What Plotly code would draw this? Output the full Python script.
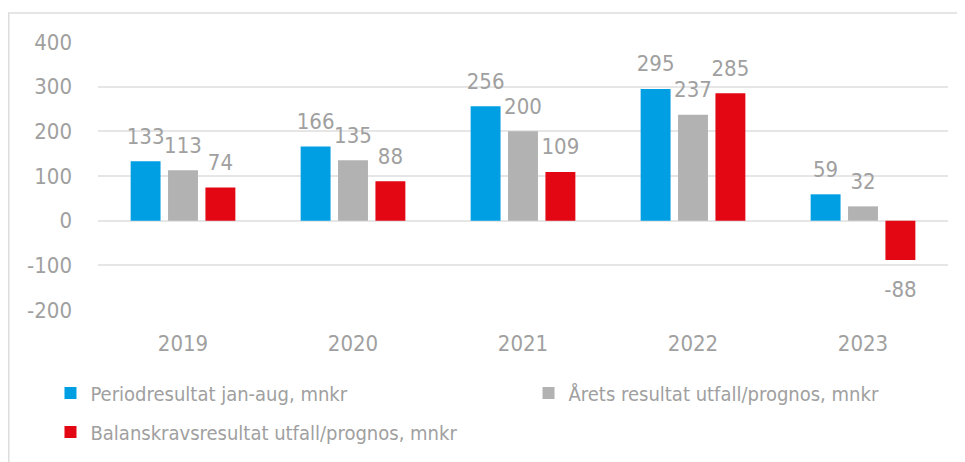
import plotly.graph_objects as go

years = ["2019", "2020", "2021", "2022", "2023"]
periodresultat = [133, 166, 256, 295, 59]
arets_resultat = [113, 135, 200, 237, 32]
balanskrav = [74, 88, 109, 285, -88]
names = ["Periodresultat jan-aug, mnkr", "Årets resultat utfall/prognos, mnkr",
         "Balanskravsresultat utfall/prognos, mnkr"]
colors = ["#009FE3", "#B2B2B2", "#E30613"]
legend_ids = ["legend", "legend2", "legend"]
y_ticks = [400, 300, 200, 100, 0, -100, -200]
y_ticktext = ["400", "300", "200", "100", "0", "-100", "-200"]

FONT = "DejaVu Sans Condensed, DejaVu Sans, sans-serif"
GREY = "#A0A0A0"

# invisible padding spans give the value labels extra distance from the bars
PAD = "<sub><span style='font-size:42px'> </span></sub>"

fig = go.Figure()
for i, (name, vals, col, lg) in enumerate(zip(names, [periodresultat, arets_resultat, balanskrav], colors, legend_ids)):
    fig.add_trace(go.Bar(
        x=years, y=vals, name=name, marker_color=col,
        marker_line_width=0, legend=lg, legendgroup=f"g{i}",
        text=[str(v) for v in vals],
        texttemplate=PAD + "%{text}" + PAD, textposition="outside",
        constraintext="none",
        textfont=dict(size=22, color=GREY, family=FONT),
        cliponaxis=False, hoverinfo="x+y+name",
    ))

legend_common = dict(
    orientation="v", xanchor="left", yanchor="top", y=-0.237,
    font=dict(size=20, color=GREY, family=FONT),
    itemwidth=30, traceorder="grouped", tracegroupgap=10,
    bgcolor="rgba(0,0,0,0)",
)

# page body has an 8px default margin, so the figure is sized to fit the window
fig.update_layout(
    width=957, height=454,
    margin=dict(l=90, r=17, t=34, b=152, autoexpand=False),
    paper_bgcolor="white", plot_bgcolor="white",
    barmode="group", bargap=0.34, bargroupgap=0.2,
    font=dict(family=FONT, color=GREY, size=22),
    showlegend=True,
    legend=dict(x=-0.0559, **legend_common),
    legend2=dict(x=0.5065, **legend_common),
    xaxis=dict(showgrid=False, showline=False, zeroline=False, ticks="",
               tickfont=dict(size=22, color=GREY), ticklabelstandoff=18),
    yaxis=dict(range=[-200, 400], tickvals=y_ticks, ticktext=y_ticktext,
               showgrid=True, gridcolor="#E6E6E6", gridwidth=1.5, zeroline=True,
               zerolinecolor="#E6E6E6", zerolinewidth=1.5, showline=False,
               ticks="", tickfont=dict(size=22, color=GREY), ticklabelstandoff=25),
    shapes=[dict(type="rect", xref="paper", yref="paper",
                 x0=-0.1050, x1=1.05, y0=-0.6, y1=1.108,
                 line=dict(color="#DDDDDD", width=1.5), fillcolor="rgba(0,0,0,0)",
                 layer="below")],
)

fig.write_html("out.html")
